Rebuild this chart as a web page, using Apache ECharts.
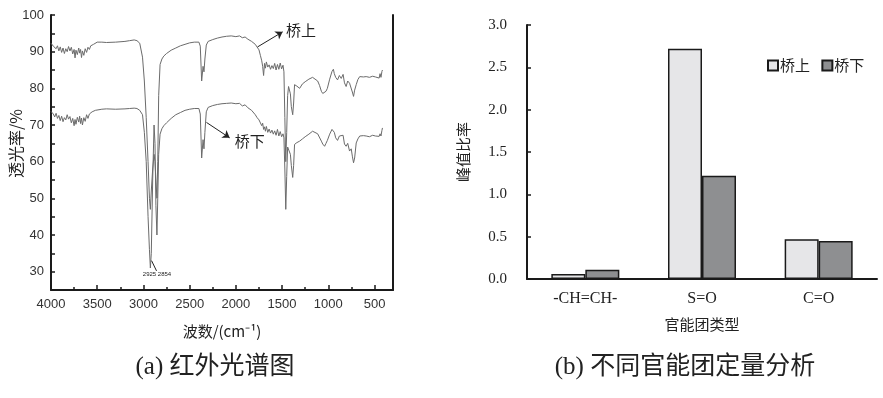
<!DOCTYPE html>
<html>
<head>
<meta charset="utf-8">
<script src="https://cdn.jsdelivr.net/npm/echarts@6/dist/echarts.min.js"></script>
<style>
  html, body { margin: 0; padding: 0; background: #fff; }
  #chart { width: 883px; height: 398px; }
</style>
</head>
<body>
<div id="chart"></div>
<script>
'use strict'

// (a) IR spectrum
const wavenumber = [
  4000, 3975, 3960, 3945, 3930, 3915, 3900, 3885, 3870, 3855, 3840, 3825, 3810, 3795, 3780, 3765,
  3750, 3740, 3730, 3715, 3700, 3690, 3680, 3670, 3660, 3645, 3630, 3615, 3600, 3585, 3570, 3555,
  3540, 3520, 3500, 3450, 3400, 3300, 3200, 3150, 3100, 3070, 3040, 3010, 2990, 2970, 2950, 2935,
  2925, 2915, 2900, 2885, 2875, 2865, 2854, 2845, 2835, 2820, 2800, 2780, 2750, 2700, 2650, 2600,
  2550, 2500, 2450, 2400, 2385, 2370, 2355, 2345, 2335, 2320, 2300, 2250, 2200, 2150, 2100, 2050,
  2000, 1960, 1930, 1900, 1870, 1850, 1830, 1810, 1790, 1770, 1750, 1735, 1720, 1710, 1700, 1690,
  1680, 1670, 1655, 1640, 1625, 1610, 1595, 1580, 1565, 1550, 1535, 1520, 1505, 1490, 1480, 1470,
  1460, 1450, 1440, 1430, 1420, 1410, 1400, 1385, 1375, 1365, 1340, 1310, 1280, 1250, 1210, 1170,
  1150, 1115, 1095, 1075, 1060, 1040, 1025, 1010, 985, 960, 945, 935, 920, 900, 880, 860,
  840, 825, 807, 790, 770, 752, 740, 727, 715, 698, 680, 660, 645, 620, 590, 555,
  520, 490, 470, 450, 440, 430, 420, 414
];
const upperT = [
  92.3, 91.5, 92.0, 90.8, 91.6, 90.2, 91.3, 89.8, 91.0, 89.5, 90.8, 90.0, 91.4, 90.2, 91.2, 89.4,
  90.6, 88.3, 90.4, 89.2, 91.0, 89.6, 90.6, 88.4, 90.2, 89.0, 90.8, 89.8, 91.2, 90.6, 91.6, 91.2,
  92.0, 92.3, 92.6, 92.6, 92.5, 92.6, 92.8, 93.0, 93.2, 93.0, 92.3, 88.5, 82, 72, 60, 50,
  47, 52, 58, 62, 60, 55, 50, 60, 78, 86.5, 88.0, 88.8, 89.5, 90.4, 91.0, 91.6,
  92.0, 92.4, 92.6, 92.6, 91.5, 82, 86, 84.5, 88, 91.8, 92.8, 93.3, 93.7, 94.0, 94.2, 94.3,
  94.1, 94.3, 93.8, 94.0, 93.4, 93.6, 92.8, 93.0, 92.0, 91.6, 90.5, 89.0, 87.5, 86.0, 83.5, 86.8,
  85.5, 87.2, 85.8, 86.4, 85.2, 86.2, 85.4, 86.8, 85.0, 86.5, 85.2, 86.9, 85.3, 86.3, 84.5, 72,
  60, 68, 78, 80.5, 80.6, 78.5, 75, 72.8, 76, 81, 80.6, 80, 81.2, 81.8, 82.5, 83,
  83.2, 82, 80.8, 79.2, 78.6, 78.3, 79.2, 80, 82.5, 84.6, 85.2, 84, 83.0, 82.3, 83.5, 82.7,
  83.8, 81.5, 80.5, 82.0, 81.4, 81.2, 79.0, 77.8, 79.5, 81, 82.4, 83.2, 83.4, 83.1, 83.2, 83.0,
  83.3, 83.1, 83.4, 82.8, 84.0, 83.0, 84.6, 85.0
];
const lowerT = [
  73.7, 73.0, 72.2, 73.2, 71.8, 72.6, 71.2, 72.4, 70.9, 72.0, 71.4, 72.8, 71.6, 72.3, 70.6, 71.8,
  69.8, 71.5, 70.2, 72.1, 70.8, 72.4, 70.4, 71.9, 70.0, 72.0, 71.0, 72.8, 71.8, 73.0, 72.6, 73.6,
  73.2, 74.0, 74.2, 74.3, 74.4, 74.3, 74.4, 74.5, 74.6, 74.5, 74.0, 72.8, 68, 60, 45, 36,
  31, 35, 55, 70, 65, 48, 40, 50, 62, 67.5, 69.0, 69.8, 70.6, 71.8, 72.8, 73.4,
  74.0, 74.3, 74.5, 74.5, 73.0, 61, 66, 63.5, 68, 73.6, 74.8, 75.3, 75.6, 75.8, 75.9, 76.0,
  75.8, 75.9, 75.2, 75.5, 74.7, 74.8, 74.0, 74.3, 72.8, 72.0, 71.4, 71.2, 69.8, 70.5, 68.8, 69.5,
  68.3, 69.6, 68.0, 68.9, 67.8, 68.6, 67.5, 68.4, 67.2, 68.8, 67.0, 68.2, 66.8, 67.6, 66.5, 58,
  47, 56, 64, 64.5, 64.2, 62, 59, 55.7, 59, 64.7, 65.2, 65.6, 66.2, 66.8, 67.5, 68.3,
  68.3, 67.6, 67.4, 65.6, 64.8, 64.2, 65.0, 65.8, 67.5, 68.8, 69.0, 68.0, 66.5, 65.8, 67.0, 66.6,
  67.2, 64.8, 64.2, 65.0, 62.9, 63.5, 61.5, 59.7, 61.0, 65.1, 66.2, 67.0, 67.4, 67.1, 67.0, 66.8,
  67.2, 67.0, 67.4, 66.9, 67.6, 67.0, 68.5, 69.2
];
const xTickLabels = [4000, 3500, 3000, 2500, 2000, 1500, 1000, 500];
const xMinorTicks = [3750, 3250, 2750, 2250, 1750, 1250, 750];

// (b) peak ratio per functional group
const groups = ['-CH=CH-', 'S=O', 'C=O'];
const upperRatio = [0.06, 2.72, 0.47];
const lowerRatio = [0.11, 1.22, 0.45];

const serif = '"Liberation Serif", "Noto Sans CJK SC", serif';
const cjk = '"Noto Sans CJK SC", sans-serif';
const sans = '"Liberation Sans", Arial, sans-serif';

const upperData = wavenumber.map((w, i) => [w, upperT[i]]);
const lowerData = wavenumber.map((w, i) => [w, lowerT[i]]);

const chart = echarts.init(document.getElementById('chart'));

const axisBlack = { show: true, lineStyle: { color: '#1a1a1a', width: 2 } };

const option = {
  animation: false,
  backgroundColor: '#fff',
  title: [
    {
      text: '(a) 红外光谱图', left: 210, top: 350, textAlign: 'center',
      textStyle: { fontFamily: serif, fontSize: 25, fontWeight: 'normal', color: '#222' }
    },
    {
      text: '(b) 不同官能团定量分析', left: 680, top: 350, textAlign: 'center',
      textStyle: { fontFamily: serif, fontSize: 25, fontWeight: 'normal', color: '#222' }
    }
  ],
  legend: {
    left: 762, top: 53,
    itemWidth: 10, itemHeight: 10, itemGap: 8,
    icon: 'rect',
    textStyle: { fontFamily: cjk, fontSize: 15, color: '#222', padding: [0, 0, 0, -3] },
    data: ['桥上 ', '桥下 ']
  },
  grid: [
    { left: 51, top: 15, width: 342, height: 275 },
    { left: 527, top: 25, width: 350, height: 254 }
  ],
  xAxis: [
    {
      gridIndex: 0, type: 'value', inverse: true, min: 300, max: 4000, position: 'bottom',
      name: '波数/(cm⁻¹)', nameLocation: 'middle', nameGap: 34,
      nameTextStyle: { fontFamily: cjk, fontSize: 15, color: '#222' },
      axisLine: axisBlack,
      axisTick: { show: true, inside: true, length: 5, customValues: xTickLabels, lineStyle: { color: '#1a1a1a', width: 1.5 } },
      axisLabel: { customValues: xTickLabels, margin: 8, fontFamily: sans, fontSize: 13, color: '#333', formatter: v => String(v) },
      splitLine: { show: false }
    },
    {
      gridIndex: 0, type: 'value', inverse: true, min: 300, max: 4000, position: 'bottom',
      axisLine: { show: false },
      axisTick: { show: true, inside: true, length: 3, customValues: xMinorTicks, lineStyle: { color: '#1a1a1a', width: 1.5 } },
      axisLabel: { show: false },
      splitLine: { show: false }
    },
    {
      gridIndex: 1, type: 'category', data: groups,
      name: '官能团类型', nameLocation: 'middle', nameGap: 38,
      nameTextStyle: { fontFamily: cjk, fontSize: 15, color: '#222' },
      axisLine: axisBlack,
      axisTick: { show: false },
      axisLabel: { margin: 12, fontFamily: serif, fontSize: 16, color: '#222' }
    }
  ],
  yAxis: [
    {
      gridIndex: 0, type: 'value', min: 25, max: 100, interval: 5,
      name: '透光率/%', nameLocation: 'middle', nameGap: 27, nameMoveOverlap: false,
      nameTextStyle: { fontFamily: cjk, fontSize: 16, color: '#222', padding: [0, 0, 0, 18] },
      axisLine: axisBlack,
      axisTick: { show: true, inside: true, length: 4, lineStyle: { color: '#1a1a1a', width: 1.5 } },
      axisLabel: {
        margin: 7, fontFamily: sans, fontSize: 13, color: '#333',
        formatter: v => (v % 10 === 0 ? String(v) : '')
      },
      splitLine: { show: false }
    },
    {
      gridIndex: 0, type: 'value', position: 'right', min: 25, max: 100,
      axisLine: axisBlack,
      axisTick: { show: false }, axisLabel: { show: false }, splitLine: { show: false }
    },
    {
      gridIndex: 1, type: 'value', min: 0, max: 3, interval: 0.5,
      name: '峰值比率', nameLocation: 'middle', nameGap: 56,
      nameTextStyle: { fontFamily: cjk, fontSize: 15, color: '#222' },
      axisLine: axisBlack,
      axisTick: { show: true, inside: true, length: 4, lineStyle: { color: '#1a1a1a', width: 1.5 } },
      axisLabel: {
        margin: 20, fontFamily: serif, fontSize: 15, color: '#222',
        formatter: v => v.toFixed(1)
      },
      splitLine: { show: false }
    }
  ],
  series: [
    {
      name: '桥上 curve', type: 'line', xAxisIndex: 0, yAxisIndex: 0,
      data: upperData, showSymbol: false, smooth: false,
      lineStyle: { color: '#6b6b6b', width: 1 },
      markLine: {
        silent: true, symbol: ['none', 'arrow'], symbolSize: 7,
        lineStyle: { color: '#222', width: 1, type: 'solid' },
        label: { show: true, position: 'end', formatter: '桥上', distance: 4, fontFamily: cjk, fontSize: 15, color: '#222' },
        data: [[{ coord: [1765, 91.3] }, { coord: [1494, 95.4] }]]
      }
    },
    {
      name: '桥下 curve', type: 'line', xAxisIndex: 0, yAxisIndex: 0,
      data: lowerData, showSymbol: false, smooth: false,
      lineStyle: { color: '#6b6b6b', width: 1 },
      markLine: {
        silent: true, symbol: ['none', 'arrow'], symbolSize: 7,
        lineStyle: { color: '#222', width: 1, type: 'solid' },
        label: { show: true, position: 'end', distance: 6, fontFamily: cjk, fontSize: 15, color: '#222' },
        data: [
          [{ coord: [2318, 70.7] }, { coord: [2067, 66.5], label: { formatter: '桥下' } }],
          [{ coord: [2912, 33.0], symbol: 'none' }, { coord: [2858, 30.2], symbol: 'none',
            label: { formatter: '2925 2854', fontFamily: sans, fontSize: 6, distance: 1 } }]
        ]
      }
    },
    {
      name: '桥上 ', type: 'bar', xAxisIndex: 2, yAxisIndex: 2,
      data: upperRatio, barWidth: 34, barGap: '0%',
      itemStyle: { color: '#e6e6e8', borderColor: '#1a1a1a', borderWidth: 1.5 }
    },
    {
      name: '桥下 ', type: 'bar', xAxisIndex: 2, yAxisIndex: 2,
      data: lowerRatio, barWidth: 34, barGap: '0%',
      itemStyle: { color: '#8e8f91', borderColor: '#1a1a1a', borderWidth: 1.5 }
    }
  ]
};

chart.setOption(option);
</script>
</body>
</html>
